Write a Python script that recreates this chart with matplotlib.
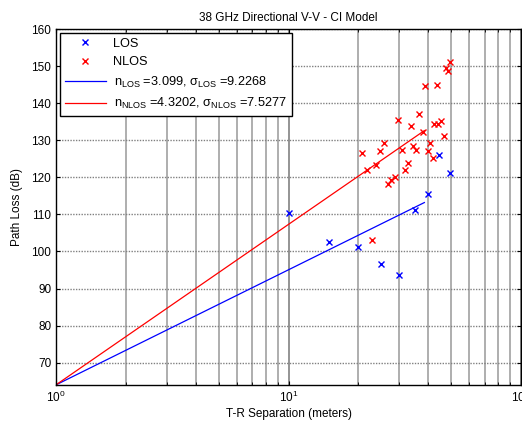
import matplotlib
matplotlib.use("Agg")
import matplotlib.pyplot as plt
from matplotlib.ticker import LogLocator, NullFormatter

plt.rcParams['font.family'] = ['Liberation Sans', 'DejaVu Sans']
plt.rcParams['mathtext.fontset'] = 'custom'
plt.rcParams['mathtext.rm'] = 'Liberation Sans'
plt.rcParams['mathtext.it'] = 'Liberation Sans:italic'
plt.rcParams['mathtext.default'] = 'regular'

# DATA
los_dist = [10.0, 15.0, 20.0, 25.0, 30.0, 35.0, 40.0, 44.5, 49.5]
los_pl = [110.5, 102.6, 101.1, 96.5, 93.7, 111.3, 115.6, 126.0, 121.2]

nlos_dist = [22.8, 20.8, 21.7, 23.7, 24.8, 25.8, 26.8, 27.7, 28.8, 29.7,
             30.8, 31.7, 32.6, 33.6, 34.4, 35.3, 36.5, 37.8, 39.8, 40.6,
             41.7, 42.4, 43.9, 45.2, 46.8, 49.4, 47.6, 48.7, 38.8, 43.6]
nlos_pl = [103.1, 126.5, 121.9, 123.4, 127.2, 129.3, 118.3, 119.2, 120.1, 135.4,
           127.5, 122.0, 123.9, 133.9, 128.4, 127.5, 137.1, 132.1, 127.2, 129.3,
           125.2, 134.4, 134.5, 135.3, 131.2, 151.1, 149.4, 148.7, 144.5, 144.8]

# CI model fit lines (end points)
fit_dist = [1.0, 38.4]
los_fit = [64.04, 113.2]
nlos_fit = [64.04, 132.6]

los_label = r'n$_{LOS}$ =3.099, $\sigma_{LOS}$ =9.2268'
nlos_label = r'n$_{NLOS}$ =4.3202, $\sigma_{NLOS}$ =7.5277'

fig = plt.figure(figsize=(5.22, 4.26), dpi=100)
ax = fig.add_axes([56 / 522, 41 / 426, 465 / 522, 356 / 426])

ax.plot(los_dist, los_pl, 'x', color='blue', markersize=4, markeredgewidth=1, label='LOS')
ax.plot(nlos_dist, nlos_pl, 'x', color='red', markersize=4, markeredgewidth=1, label='NLOS')
ax.plot(fit_dist, los_fit, '-', color='blue', linewidth=0.9, label=los_label)
ax.plot(fit_dist, nlos_fit, '-', color='red', linewidth=0.9, label=nlos_label)

ax.set_xscale('log')
ax.set_xlim(1, 100)
ax.set_ylim(64, 160)
ax.set_yticks([70, 80, 90, 100, 110, 120, 130, 140, 150, 160])
ax.xaxis.set_minor_locator(LogLocator(base=10, subs=range(2, 10)))
ax.xaxis.set_minor_formatter(NullFormatter())

# MATLAB-like grid: grey verticals, dotted horizontals
ax.grid(True, which='major', axis='x', linestyle='-', color='#777777', linewidth=1.1)
ax.grid(True, which='minor', axis='x', linestyle='-', color='#a8a8a8', linewidth=1.3)
ax.grid(True, which='major', axis='y', linestyle=(0, (1, 1)), color='#808080', linewidth=1.0)
ax.set_axisbelow(True)
ax.tick_params(which='both', direction='in', top=True, right=True, labelsize=8.5)
ax.tick_params(which='major', length=3)
ax.tick_params(which='minor', length=2)
for s in ax.spines.values():
    s.set_linewidth(1.0)

ax.set_title('38 GHz Directional V-V - CI Model', fontsize=8.5, pad=6)
ax.set_xlabel('T-R Separation (meters)', fontsize=8.5, labelpad=2)
ax.set_ylabel('Path Loss (dB)', fontsize=8.5, labelpad=6)

leg = ax.legend(loc='upper left', fontsize=9.2, frameon=True, fancybox=False,
                edgecolor='black', framealpha=1, handlelength=3.2,
                borderaxespad=0.3, labelspacing=0.5, handletextpad=0.6,
                borderpad=0.4)
leg.get_frame().set_linewidth(1.0)

fig.savefig('out.png', dpi=100)
